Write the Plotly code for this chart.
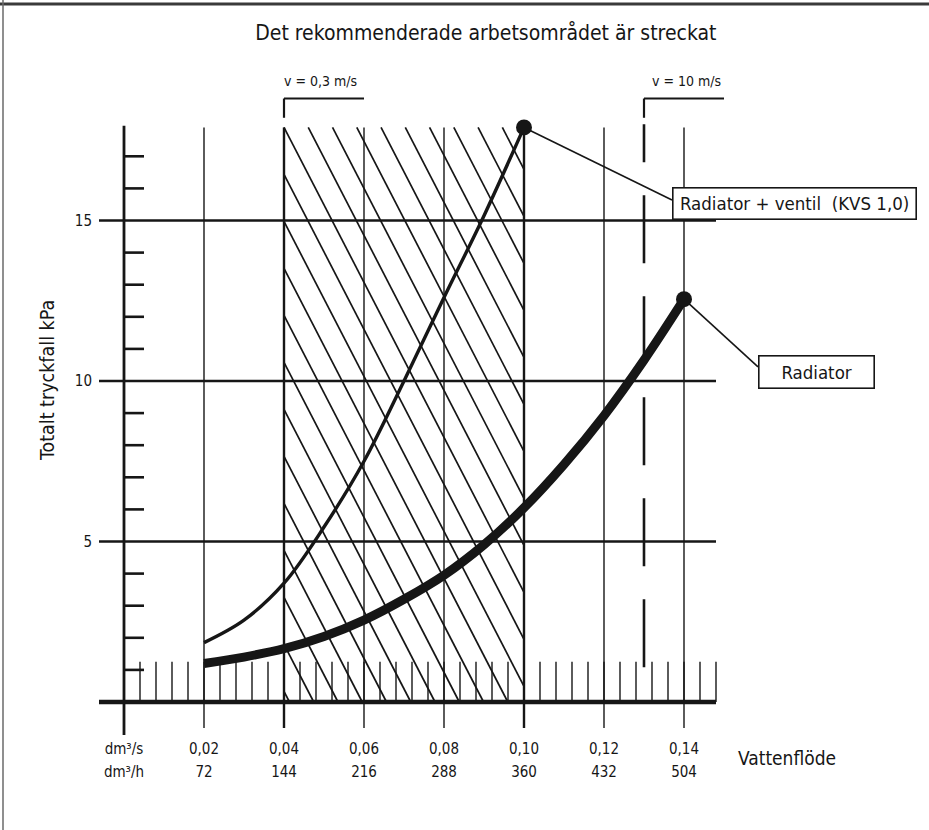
import plotly.graph_objects as go

# ---------------- data ----------------
RAD_FLOW = [0.02, 0.03, 0.04, 0.05, 0.06, 0.07, 0.08, 0.09, 0.10, 0.11, 0.12, 0.13, 0.14]
RAD_KPA = [1.2, 1.4, 1.66, 2.04, 2.55, 3.2, 3.95, 4.9, 6.05, 7.4, 8.92, 10.65, 12.55]

VENT_FLOW = [0.02, 0.03, 0.04, 0.05, 0.06, 0.07, 0.08, 0.09, 0.10]
VENT_KPA = [1.85, 2.55, 3.7, 5.45, 7.5, 10.0, 12.6, 15.15, 17.9]

X_TICKS = [0.0, 0.02, 0.04, 0.06, 0.08, 0.10, 0.12, 0.14]
X_TICK_S = ["dm³/s", "0,02", "0,04", "0,06", "0,08", "0,10", "0,12", "0,14"]
X_TICK_H = ["dm³/h", "72", "144", "216", "288", "360", "432", "504"]
Y_TICKS = [5, 10, 15]
Y_TICK_TEXT = ["5", "10", "15"]

WORK_AREA_X = [0.04, 0.10]      # recommended (hatched) flow range
WORK_AREA_Y = [0.0, 17.9]
V_MAX_FLOW = 0.13               # v = 10 m/s
V_MIN_FLOW = 0.04               # v = 0,3 m/s

TITLE = "Det rekommenderade arbetsområdet är streckat"
Y_TITLE = "Totalt tryckfall kPa"
X_TITLE = "Vattenflöde"
LABEL_VENT = "Radiator + ventil\u00a0\u00a0(KVS 1,0)"
LABEL_RAD = "Radiator"
LABEL_VMIN = "v = 0,3 m/s"
LABEL_VMAX = "v = 10 m/s"

# ---------------- style ----------------
FONT = "DejaVu Sans Condensed, DejaVu Sans, sans-serif"
INK = "#161616"
W, H = 929, 830
XR = [-0.031, 0.20125]
YR = [-3.9875, 21.869]
X_MIN = -0.00625       # left end of horizontal grid lines
X_MAX = 0.148          # right end of grid lines / ticks
GRID_TOP = 17.9
GRID_BOTTOM = -0.81
AXIS_TOP = 17.95
AXIS_BOTTOM = -1.03

fig = go.Figure()


def segs(pairs):
    xs, ys = [], []
    for (x0, y0, x1, y1) in pairs:
        xs += [x0, x1, None]
        ys += [y0, y1, None]
    return xs, ys


def add_lines(pairs, width, color=INK, dash="solid"):
    xs, ys = segs(pairs)
    fig.add_trace(go.Scatter(x=xs, y=ys, mode="lines", hoverinfo="skip",
                             line=dict(color=color, width=width, dash=dash),
                             showlegend=False))


# hatching of the recommended area
hx0, hx1 = WORK_AREA_X
hy0, hy1 = WORK_AREA_Y
step = 0.006065
slope = 241.4
span = (hy1 - hy0) / slope
hatch = []
k = -20
while True:
    xt = hx0 + k * step
    if xt > hx1:
        break
    xa, xb = max(xt, hx0), min(xt + span, hx1)
    if xa < xb:
        ya = hy1 - (xa - xt) * slope
        yb = hy1 - (xb - xt) * slope
        hatch.append((xa, ya, xb, yb))
    k += 1
add_lines(hatch, 1.7)

# vertical grid lines
vg = [(x, GRID_BOTTOM, x, GRID_TOP) for x in X_TICKS[1:]]
add_lines([p for p in vg if p[0] not in WORK_AREA_X], 1.4)
add_lines([(x, GRID_BOTTOM, x, GRID_TOP) for x in WORK_AREA_X], 2.4)

# horizontal grid lines
add_lines([(X_MIN, y, X_MAX, y) for y in Y_TICKS], 2.4)

# minor ticks on x axis (every 0.004)
xt_minor = [round(i * 0.004, 3) for i in range(1, 38)]
add_lines([(x, 0, x, 1.25) for x in xt_minor], 1.4)

# minor ticks on y axis (every 1 kPa)
add_lines([(0, y, 0.005, y) for y in range(1, 18) if y % 5], 2.6)

# y axis and x axis (zero line)
add_lines([(0, AXIS_BOTTOM, 0, AXIS_TOP)], 2.8)
add_lines([(X_MIN, 0, X_MAX, 0)], 4.5)

# v = 10 m/s dashed line and brackets
add_lines([(V_MAX_FLOW, 1.08, V_MAX_FLOW, 18.0)], 2.6, dash="68px,33px")
for xb in (V_MIN_FLOW, V_MAX_FLOW):
    add_lines([(xb, 18.2, xb, 18.8), (xb, 18.8, xb + 0.02, 18.8)], 2.2)

# curves
fig.add_trace(go.Scatter(x=VENT_FLOW, y=VENT_KPA, mode="lines", hoverinfo="skip",
                         line=dict(color=INK, width=3.4, shape="spline", smoothing=1.0),
                         showlegend=False))
fig.add_trace(go.Scatter(x=RAD_FLOW, y=RAD_KPA, mode="lines", hoverinfo="skip",
                         line=dict(color=INK, width=9, shape="spline", smoothing=1.0),
                         showlegend=False))

# callouts
BOX_VENT = (0.137, 15.545)
BOX_RAD = (0.1585, 10.44)
add_lines([(VENT_FLOW[-1], VENT_KPA[-1], BOX_VENT[0], 15.64),
           (RAD_FLOW[-1], RAD_KPA[-1], BOX_RAD[0], BOX_RAD[1])], 1.6)
fig.add_trace(go.Scatter(x=[VENT_FLOW[-1], RAD_FLOW[-1]], y=[VENT_KPA[-1], RAD_KPA[-1]],
                         mode="markers", hoverinfo="skip",
                         marker=dict(color=INK, size=16), showlegend=False))

# invisible trace to carry the second x axis (dm³/h labels)
fig.add_trace(go.Scatter(x=[X_TICKS[0]], y=[0], xaxis="x2", mode="markers",
                         marker=dict(opacity=0), hoverinfo="skip", showlegend=False))

ann = []
ann.append(dict(x=BOX_VENT[0], y=BOX_VENT[1], xref="x", yref="y", text=LABEL_VENT,
                showarrow=False, xanchor="left", yanchor="middle",
                font=dict(family=FONT, size=18.5, color=INK),
                bgcolor="white", bordercolor=INK, borderwidth=1.6, borderpad=2,
                width=238, height=26))
ann.append(dict(x=BOX_RAD[0], y=10.265, xref="x", yref="y", text=LABEL_RAD,
                showarrow=False, xanchor="left", yanchor="middle",
                font=dict(family=FONT, size=18.5, color=INK),
                bgcolor="white", bordercolor=INK, borderwidth=1.6, borderpad=2,
                width=110, height=27))
ann.append(dict(x=0.049, y=19.35, xref="x", yref="y", text=LABEL_VMIN, showarrow=False,
                font=dict(family=FONT, size=14, color=INK)))
ann.append(dict(x=0.1405, y=19.35, xref="x", yref="y", text=LABEL_VMAX, showarrow=False,
                font=dict(family=FONT, size=14, color=INK)))
ann.append(dict(x=0.1658, y=-1.745, xref="x", yref="y", text=X_TITLE, showarrow=False,
                font=dict(family=FONT, size=19, color=INK)))
ann.append(dict(x=-0.01925, y=10.0, xref="x", yref="y", text=Y_TITLE, showarrow=False,
                textangle=-90, font=dict(family=FONT, size=19.5, color=INK)))

TICKFONT = dict(family=FONT, size=15, color=INK)
fig.update_layout(
    width=W, height=H,
    margin=dict(l=0, r=0, t=0, b=0, pad=0),
    paper_bgcolor="white", plot_bgcolor="white",
    title=dict(text=TITLE, x=0.523, y=1 - 33 / H, xanchor="center", yanchor="middle",
               font=dict(family=FONT, size=21, color=INK)),
    xaxis=dict(range=XR, domain=[0, 1], anchor="free", position=(H - 738) / H,
               showgrid=False, zeroline=False, showline=False, ticks="",
               tickvals=X_TICKS, ticktext=X_TICK_S,
               tickfont=TICKFONT, fixedrange=True),
    xaxis2=dict(range=XR, domain=[0, 1], anchor="free", position=(H - 761) / H,
                overlaying="x", side="bottom",
                showgrid=False, zeroline=False, showline=False, ticks="",
                tickvals=X_TICKS, ticktext=X_TICK_H,
                tickfont=TICKFONT, fixedrange=True),
    yaxis=dict(range=YR, domain=[0, 1], anchor="free", position=98 / W,
               showgrid=False, zeroline=False, showline=False, ticks="",
               tickvals=Y_TICKS, ticktext=Y_TICK_TEXT, ticklabelstandoff=6,
               tickfont=TICKFONT, fixedrange=True),
    annotations=ann,
    shapes=[
        dict(type="line", xref="paper", yref="paper", x0=0, x1=1, y0=1 - 4 / H, y1=1 - 4 / H,
             line=dict(color="#3a3a3a", width=3)),
        dict(type="line", xref="paper", yref="paper", x0=3 / W, x1=3 / W, y0=0, y1=1,
             line=dict(color="#6a6a6a", width=1.5)),
    ],
)

fig.write_html("out.html", config={"displayModeBar": False},
               post_script="document.body.style.margin='0px';")
